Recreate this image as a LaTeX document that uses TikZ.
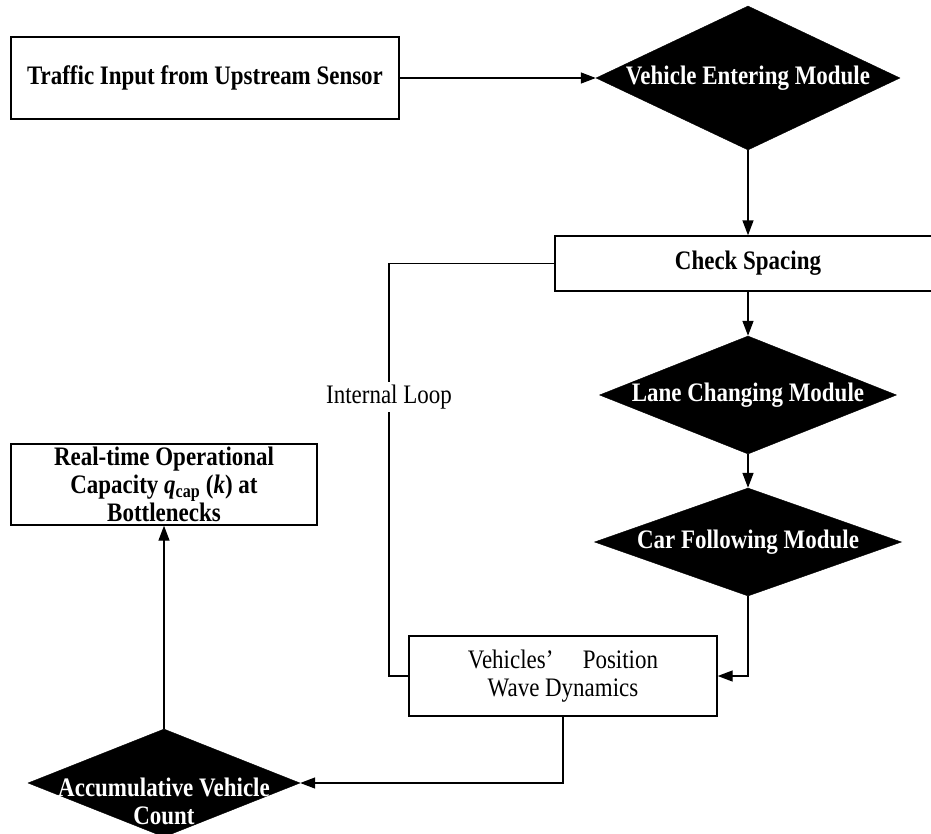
\documentclass[tikz,border=0pt]{standalone}
\usepackage{fontspec}
\setmainfont{Liberation Serif}[FakeStretch=0.86]
\usetikzlibrary{shapes.geometric,arrows.meta}
\newcommand{\basefnt}{\fontsize{26.7pt}{28pt}\selectfont}
\begin{document}
\begin{tikzpicture}[x=1pt,y=-1pt,
  every node/.style={font=\basefnt},
  box/.style={draw, line width=1.4pt, rectangle, inner sep=0pt, align=center},
  bbox/.style={box, font=\basefnt\bfseries},
  dmd/.style={diamond, fill=black, draw=black, inner sep=0pt},
  dtext/.style={text=white, font=\basefnt\bfseries, align=center, inner sep=0pt},
  ln/.style={line width=1.4pt},
  arr/.style={line width=1.4pt, -{Triangle[length=15pt,width=11pt]}}]
\useasboundingbox (0,0) rectangle (931,833);

\node[bbox, minimum width=388pt, minimum height=82pt] (in) at (205,78) {Traffic Input from Upstream Sensor};
\node[dmd, minimum width=304pt, minimum height=144pt,
      label={[dtext]center:Vehicle Entering Module}] (ve) at (748,78) {};
\node[bbox, minimum width=386pt, minimum height=55pt] (cs) at (748,263.5) {Check Spacing};
\node[dmd, minimum width=297pt, minimum height=118pt,
      label={[dtext]center:Lane Changing Module}] (lc) at (748,395) {};
\node[dmd, minimum width=307pt, minimum height=108pt,
      label={[dtext]center:Car Following Module}] (cf) at (748,542) {};
\node[box, minimum width=308pt, minimum height=80pt] (vp) at (563,676)
      {Vehicles’\hspace{1.1em}Position\\Wave Dynamics};
\node[bbox, minimum width=306pt, minimum height=81pt] (rt) at (164,484.5)
      {Real-time Operational\\Capacity \textit{q}\textsubscript{cap} (\textit{k}) at\\Bottlenecks};
\node[dmd, minimum width=272pt, minimum height=108pt,
      label={[dtext, yshift=-18pt]center:Accumulative Vehicle\\Count}] (ac) at (164,783) {};
\node[fill=white, inner xsep=2pt, inner ysep=3pt] (il) at (389,397) {Internal Loop};

\draw[arr] (in) -- (ve);
\draw[arr] (ve) -- (cs);
\draw[arr] (cs) -- (lc);
\draw[arr] (lc) -- (cf);
\draw[arr] (cf.south) |- (vp.east);
\draw[ln] (vp.west) -| (il.south);
\draw[ln] (il.north) |- (cs.west);
\draw[arr] (vp.south) |- (ac.east);
\draw[arr] (ac.north) -- (rt.south);
\end{tikzpicture}
\end{document}
